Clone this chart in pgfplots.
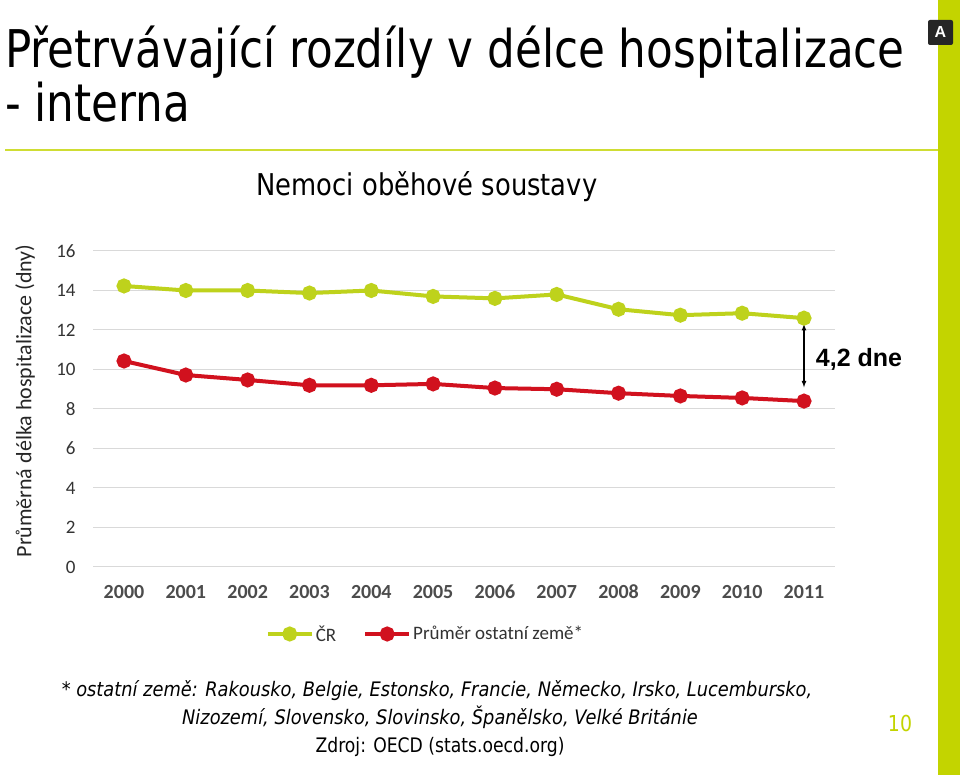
\documentclass[border=0pt]{standalone}
\usepackage{pgfplots}
\pgfplotsset{compat=1.18}
\usepackage{fontspec}
\setmainfont{Carlito}
\newfontfamily\titlefont[FakeStretch=0.84]{DejaVu Sans}
\newfontfamily\cond[FakeStretch=0.86]{DejaVu Sans}
\newfontfamily\condit[FakeStretch=0.89]{DejaVu Sans Oblique}
\newfontfamily\arial{Liberation Sans}
\definecolor{lime}{HTML}{C3D400}
\definecolor{crgreen}{HTML}{BED21C}
\definecolor{avgred}{HTML}{D1111E}

\begin{document}
\begin{tikzpicture}[x=1pt,y=1pt]
\useasboundingbox (0,0) rectangle (960,775);
\fill[white] (0,0) rectangle (960,775);
% right sidebar and logo
\fill[lime] (938,0) rectangle (960,775);
\fill[black!85, rounded corners=2pt] (928,730) rectangle (953,755);
\node[white, font=\arial\bfseries\fontsize{16}{16}\selectfont] at (940.5,742.5) {A};
% title
\node[anchor=base west, inner sep=0, font=\titlefont\fontsize{52}{52}\selectfont] at (5,707) {Přetrvávající rozdíly v délce hospitalizace};
\node[anchor=base west, inner sep=0, font=\titlefont\fontsize{52}{52}\selectfont] at (5,653) {- interna};
\draw[lime!80, line width=1.5pt] (5,625) -- (938,625);
\node[anchor=base, inner sep=0, font=\cond\fontsize{30}{30}\selectfont] at (427,579) {Nemoci oběhové soustavy};
% y label
\node[rotate=90, inner sep=0, font=\fontsize{22}{22}\selectfont, color=black!85] at (25,374) {Průměrná délka hospitalizace (dny)};

\begin{axis}[
  at={(93.1pt,208pt)}, anchor=south west,
  scale only axis, width=741.8pt, height=316pt,
  xmin=1999.5, xmax=2011.5, ymin=0, ymax=16,
  xtick={2000,2001,2002,2003,2004,2005,2006,2007,2008,2009,2010,2011},
  xticklabels={2000,2001,2002,2003,2004,2005,2006,2007,2008,2009,2010,2011},
  ytick={0,2,4,6,8,10,12,14,16},
  yticklabels={0,2,4,6,8,10,12,14,16},
  x tick label style={font=\bfseries\fontsize{20}{20}\selectfont, color=black!70,
    text height=13pt, text depth=0pt, yshift=-15pt},
  y tick label style={font=\fontsize{19}{19}\selectfont, color=black!80, xshift=-14pt},
  ymajorgrids, grid style={gray!30, line width=1pt},
  axis line style={draw=none}, major tick style={draw=none},
  clip=false,
  legend style={at={(0.448,-0.212)}, anchor=center, draw=none, fill=none,
    font=\fontsize{19}{19}\selectfont, text=black!80, legend columns=2,
    /tikz/every even column/.append style={column sep=25pt}},
  legend image code/.code={\draw[mark repeat=2,mark phase=2,#1] plot coordinates {(0pt,0pt) (22pt,0pt) (44pt,0pt)};},
]
\addplot[color=crgreen, line width=4pt, mark=*, mark size=5.5pt, mark options={solid}] coordinates {
  (2000,14.23) (2001,14.0) (2002,14.0) (2003,13.87) (2004,14.0) (2005,13.7)
  (2006,13.6) (2007,13.8) (2008,13.05) (2009,12.75) (2010,12.85) (2011,12.6)
};
\addplot[color=avgred, line width=4pt, mark=*, mark size=5.5pt, mark options={solid}] coordinates {
  (2000,10.43) (2001,9.72) (2002,9.47) (2003,9.2) (2004,9.2) (2005,9.27)
  (2006,9.06) (2007,9.0) (2008,8.8) (2009,8.66) (2010,8.56) (2011,8.4)
};
\legend{ČR, Průměr ostatní země*}
\draw[<->, >=latex, line width=1.2pt] (axis cs:2011,12.3) -- (axis cs:2011,9.1);
\end{axis}

\node[font=\arial\bfseries\fontsize{25}{25}\selectfont] at (859,416) {4,2 dne};
% footnote
\node[anchor=base, inner sep=0, font=\condit\fontsize{20}{20}\selectfont] at (437,78) {* ostatní země: Rakousko, Belgie, Estonsko, Francie, Německo, Irsko, Lucembursko,};
\node[anchor=base, inner sep=0, font=\condit\fontsize{20}{20}\selectfont] at (440,50) {Nizozemí, Slovensko, Slovinsko, Španělsko, Velké Británie};
\node[anchor=base, inner sep=0, font=\cond\fontsize{20}{20}\selectfont] at (440,22) {Zdroj: OECD (stats.oecd.org)};
\node[anchor=base, inner sep=0, font=\cond\fontsize{22}{22}\selectfont, color=lime] at (900,43) {10};
\end{tikzpicture}
\end{document}
